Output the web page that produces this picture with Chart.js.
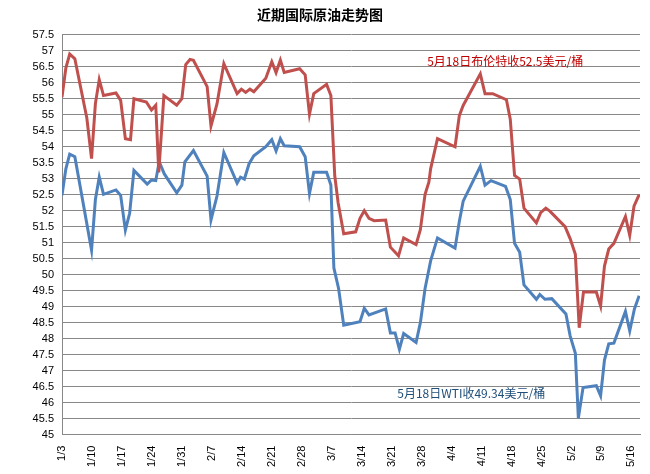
<!DOCTYPE html>
<html><head><meta charset="utf-8">
<script src="https://cdn.jsdelivr.net/npm/chart.js@4"></script>
<style>html,body{margin:0;padding:0;background:#fff}#w{width:650px;height:474px}</style>
</head><body><div id="w"><canvas id="c"></canvas></div>
<script>
const title = '近期国际原油走势图';
const startDate = [2017, 0, 3];
const brentDays = [0,0.9,1.8,3,5.8,6.9,7.8,8.7,9.7,12.6,13.7,14.8,16,16.8,19.7,20.9,21.9,22.6,23.8,26.8,28,28.9,29.9,30.7,33.9,34.8,36.2,37.8,40.9,41.9,42.9,43.9,44.8,47.6,49,50,51,51.9,55.5,56.8,57.8,58.8,61.8,62.8,63.7,64.5,65.8,68.6,69.6,70.6,71.7,72.9,75.6,76.7,78.6,79.8,82.7,83.7,84.8,85.7,86.1,87.7,91.8,92.8,93.7,97.7,98.8,100.6,103.8,104.7,105.7,106.9,107.9,110.8,111.8,113,114,117.5,118.7,119.9,120.8,121.8,124.8,125.8,126.7,127.7,128.9,131.6,132.6,133.6,134.8];
const brentVals = [55.55,56.46,56.9,56.75,54.9,53.63,55.35,56.1,55.6,55.68,55.45,54.25,54.22,55.5,55.4,55.15,55.3,53.2,55.6,55.3,55.5,56.57,56.73,56.7,55.88,54.65,55.34,56.6,55.66,55.8,55.7,55.8,55.72,56.14,56.66,56.32,56.71,56.32,56.44,56.25,55.02,55.66,55.95,55.6,53.1,52.24,51.28,51.34,51.76,52.0,51.76,51.69,51.71,50.86,50.59,51.15,50.94,51.41,52.51,52.9,53.31,54.25,54.0,54.97,55.29,56.28,55.66,55.66,55.47,54.86,53.1,52.99,52.08,51.62,51.94,52.08,51.98,51.5,51.12,50.64,48.34,49.46,49.46,49.02,50.27,50.8,50.98,51.82,51.23,52.14,52.5];
const wtiDays = [0,0.9,1.8,3,6.9,7.8,8.7,9.7,12.6,13.7,14.8,15.8,16.8,19.9,20.9,21.9,22.7,23.9,26.8,28,28.7,30.7,33.9,34.8,36.2,37.8,40.9,41.7,42.6,43.7,44.8,47.6,49,50,51,51.9,55.5,56.8,57.8,58.8,61.8,62.8,63.5,64.6,65.8,69.6,70.6,71.7,75.6,76.7,77.8,78.8,79.8,82.7,83.7,84.8,86.1,87.7,91.8,92.8,93.7,97.7,98.8,100.2,103.6,104.7,105.7,106.9,107.9,110.8,111.6,112.8,114.4,117.7,118.7,119.9,120.6,121.7,124.8,125.8,126.7,127.7,128.9,131.6,132.6,133.7,134.8];
const wtiVals = [52.48,53.31,53.77,53.69,50.77,52.35,53.05,52.51,52.65,52.48,51.39,51.92,53.26,52.83,52.96,52.94,53.53,53.15,52.56,52.8,53.53,53.88,53.08,51.71,52.46,53.82,52.86,53.05,52.99,53.47,53.72,54.0,54.22,53.87,54.25,54.03,54.0,53.69,52.54,53.2,53.2,52.8,50.21,49.57,48.42,48.53,48.95,48.74,48.93,48.18,48.18,47.67,48.16,47.88,48.5,49.57,50.43,51.15,50.83,51.66,52.3,53.39,52.8,52.94,52.76,52.35,50.98,50.7,49.68,49.23,49.38,49.23,49.25,48.77,48.08,47.54,45.51,46.47,46.53,46.21,47.33,47.84,47.86,48.85,48.24,48.93,49.34];
const brentNote = {text:'5月18日布伦特收52.5美元/桶', day:85.3, val:56.67, color:'#c00000'};
const wtiNote = {text:'5月18日WTI收49.34美元/桶', day:78.3, val:46.3, color:'#1f4e79'};

const toPts = (d,v)=>d.map((x,i)=>({x, y:v[i]}));
const dayLabel = d => { const t = new Date(startDate[0], startDate[1], startDate[2]+d); return (t.getMonth()+1)+'/'+t.getDate(); };

const notes = {id:'notes', afterDatasetsDraw(ch){
  const c=ch.ctx, xs=ch.scales.x, ys=ch.scales.y;
  c.save(); c.font='12px "Microsoft YaHei","Noto Sans CJK SC",sans-serif'; c.textBaseline='middle'; c.textAlign='left';
  for(const n of [brentNote,wtiNote]){ c.fillStyle=n.color; c.fillText(n.text, xs.getPixelForValue(n.day), ys.getPixelForValue(n.val)); }
  c.restore();
}};

new Chart(document.getElementById('c'), {
  type:'line',
  data:{datasets:[
    {data:toPts(brentDays,brentVals), borderColor:'#c0504d', borderWidth:3, pointRadius:0, tension:0},
    {data:toPts(wtiDays,wtiVals), borderColor:'#4f81bd', borderWidth:3, pointRadius:0, tension:0}
  ]},
  options:{
    responsive:true, maintainAspectRatio:false, animation:false,
    layout:{padding:{left:0,right:10,top:0,bottom:4}},
    plugins:{legend:{display:false}, tooltip:{enabled:false},
      title:{display:true, text:title, color:'#000', font:{size:14, weight:'bold', family:'"Noto Sans CJK SC",sans-serif'}, padding:{top:6,bottom:12}}},
    scales:{
      x:{type:'linear', min:0, max:135,
        ticks:{stepSize:7, autoSkip:false, minRotation:90, maxRotation:90, color:'#000', font:{size:11}, callback:v=>dayLabel(v)},
        afterBuildTicks:ax=>{ ax.ticks=[]; for(let d=0; d<=135; d+=7) ax.ticks.push({value:d}); },
        grid:{display:false}, border:{color:'#888'}},
      y:{min:45, max:57.5, afterFit:ax=>{ax.width=62;},
        ticks:{stepSize:0.5, autoSkip:false, color:'#000', font:{size:11}, padding:8, callback:v=>String(+v.toFixed(1))},
        grid:{color:'#888', drawTicks:false}, border:{color:'#888'}}
    }
  },
  plugins:[notes]
});
</script></body></html>
